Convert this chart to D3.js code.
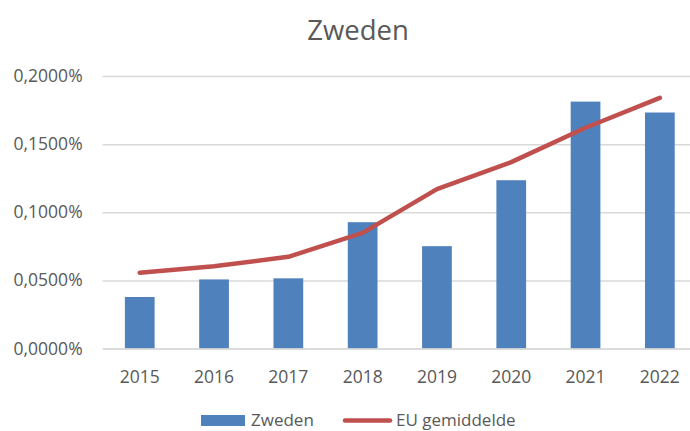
<!DOCTYPE html>
<html>
<head>
<meta charset="utf-8">
<script src="https://cdn.jsdelivr.net/npm/d3@7"></script>
<style>
  html, body { margin: 0; padding: 0; background: #fff; overflow: hidden; }
  svg { display: block; font-family: "Open Sans", "Noto Sans", sans-serif; }
</style>
</head>
<body>
<svg id="chart" width="690" height="431"></svg>
<script>
// Aandeel per jaar (in procent)
const years = ["2015", "2016", "2017", "2018", "2019", "2020", "2021", "2022"];
const zweden = [0.0378, 0.0507, 0.0515, 0.0927, 0.0751, 0.1235, 0.1812, 0.1732];
const euGemiddelde = [0.0556, 0.0603, 0.0673, 0.0849, 0.1170, 0.1368, 0.1620, 0.1839];
const yTicks = [0, 0.05, 0.10, 0.15, 0.20];
const seriesNames = ["Zweden", "EU gemiddelde"];

const svg = d3.select("#chart");
const textColor = "#595959";
const barColor = "#4F81BD";
const lineColor = "#C0504D";

const plot = { left: 102.6, right: 697, top: 76, bottom: 348.5 };

const x = d3.scaleBand().domain(years).range([plot.left, plot.right]).paddingInner(0.6).paddingOuter(0.3);
const xc = d => x(d) + x.bandwidth() / 2;
const y = d3.scaleLinear().domain([0, 0.2]).range([plot.bottom, plot.top]);

// titel
svg.append("text")
  .attr("x", 358).attr("y", 39.5)
  .attr("text-anchor", "middle")
  .attr("font-size", 27.5)
  .attr("fill", textColor)
  .text("Zweden");

// rasterlijnen
const yAxis = d3.axisLeft(y)
  .tickValues(yTicks)
  .tickSize(-(plot.right - plot.left))
  .tickPadding(20)
  .tickFormat(d => d.toFixed(4).replace(".", ",") + "%");

const gy = svg.append("g").attr("transform", `translate(${plot.left},0)`).call(yAxis);
gy.select(".domain").remove();
gy.selectAll(".tick line").attr("stroke", "#D9D9D9").attr("stroke-width", 1.5);
gy.selectAll(".tick text")
  .attr("x", -20)
  .attr("font-size", 17.5)
  .attr("font-family", "'Open Sans', 'Noto Sans', sans-serif")
  .attr("fill", textColor);

// staven
svg.append("g").selectAll("rect")
  .data(years.map((yr, i) => ({ yr, v: zweden[i] })))
  .join("rect")
  .attr("x", d => x(d.yr))
  .attr("width", x.bandwidth())
  .attr("y", d => y(d.v))
  .attr("height", d => y(0) - y(d.v))
  .attr("fill", barColor);

// x-as
const xAxis = d3.axisBottom(x).tickSize(0).tickPadding(22);
const gx = svg.append("g").attr("transform", `translate(0,${plot.bottom})`).call(xAxis);
gx.select(".domain").attr("stroke", "#D9D9D9").attr("stroke-width", 1.5);
gx.selectAll(".tick text")
  .attr("font-size", 17.5)
  .attr("font-family", "'Open Sans', 'Noto Sans', sans-serif")
  .attr("fill", textColor);

// EU-lijn
const line = d3.line().x((d, i) => xc(years[i])).y(d => y(d));
svg.append("path")
  .datum(euGemiddelde)
  .attr("d", line)
  .attr("fill", "none")
  .attr("stroke", lineColor)
  .attr("stroke-width", 4.5)
  .attr("stroke-linecap", "round")
  .attr("stroke-linejoin", "round");

// legenda
const leg = svg.append("g");
leg.append("rect").attr("x", 201).attr("y", 415).attr("width", 44).attr("height", 11).attr("fill", barColor);
leg.append("text").attr("x", 251).attr("y", 426).attr("font-size", 17).attr("fill", textColor).text(seriesNames[0]);
leg.append("line").attr("x1", 345).attr("x2", 390).attr("y1", 420.5).attr("y2", 420.5)
  .attr("stroke", lineColor).attr("stroke-width", 4.5).attr("stroke-linecap", "round");
leg.append("text").attr("x", 396).attr("y", 426).attr("font-size", 17).attr("fill", textColor).text(seriesNames[1]);
</script>
</body>
</html>
